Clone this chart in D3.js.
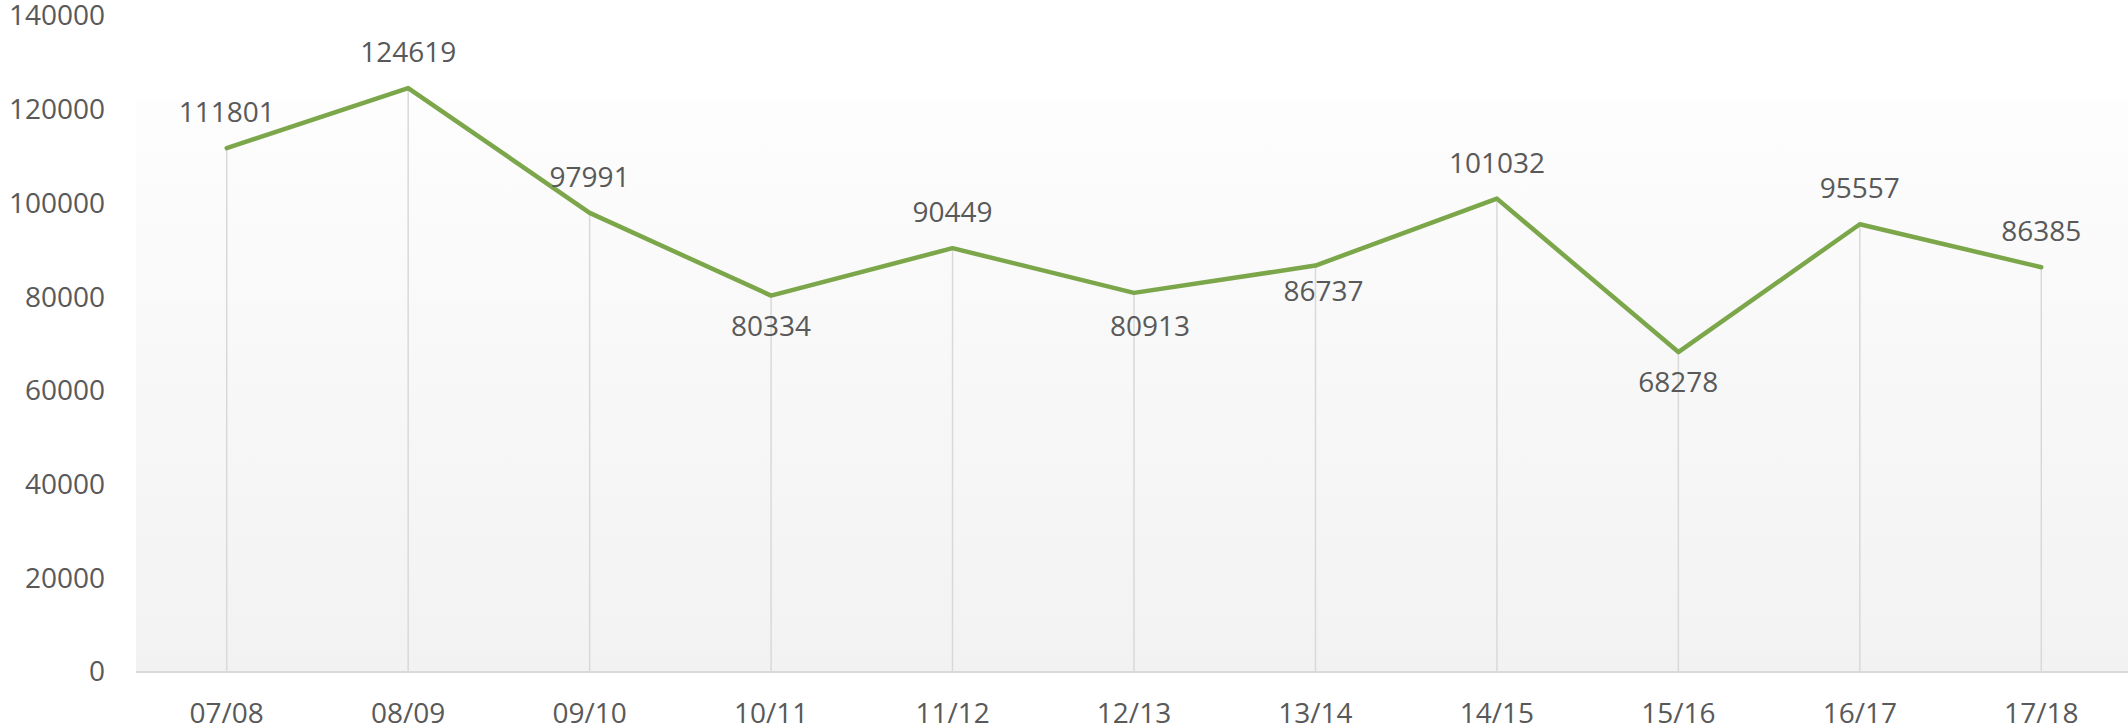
<!DOCTYPE html>
<html>
<head>
<meta charset="utf-8">
<script src="https://cdn.jsdelivr.net/npm/d3@7/dist/d3.min.js"></script>
<style>
  html, body { margin: 0; padding: 0; background: #ffffff; }
  svg { display: block; }
  text { font-family: "Open Sans", "Noto Sans", sans-serif; fill: #595959; }
</style>
</head>
<body>
<svg id="chart" width="2128" height="728"></svg>
<script>
const categories = ["07/08", "08/09", "09/10", "10/11", "11/12", "12/13", "13/14", "14/15", "15/16", "16/17", "17/18"];
const values = [111801, 124619, 97991, 80334, 90449, 80913, 86737, 101032, 68278, 95557, 86385];
const labelPlacement = ["above", "above", "above", "below", "above", "below", "below", "above", "below", "above", "above"];
const yTicks = [0, 20000, 40000, 60000, 80000, 100000, 120000, 140000];

const W = 2128, H = 728;
const svg = d3.select("#chart");

const x = d3.scaleBand().domain(categories).range([136, 2132]).padding(0);
const y = d3.scaleLinear().domain([0, 140000]).range([672, 16]);
const cx = c => x(c) + x.bandwidth() / 2;

// plot-area gradient
const defs = svg.append("defs");
const grad = defs.append("linearGradient").attr("id", "bg").attr("x1", 0).attr("y1", 0).attr("x2", 0).attr("y2", 1);
grad.append("stop").attr("offset", "0%").attr("stop-color", "#fdfdfd");
grad.append("stop").attr("offset", "100%").attr("stop-color", "#f2f2f2");
svg.append("rect").attr("x", 136).attr("y", 100).attr("width", W - 136).attr("height", 672 - 100).attr("fill", "url(#bg)");

// drop lines
svg.append("g").selectAll("line").data(categories).join("line")
  .attr("x1", c => cx(c)).attr("x2", c => cx(c))
  .attr("y1", (c, i) => y(values[i])).attr("y2", y(0))
  .attr("stroke", "#d9d9d9").attr("stroke-width", 1.5);

// axis line
svg.append("line").attr("x1", 136).attr("x2", W).attr("y1", y(0)).attr("y2", y(0))
  .attr("stroke", "#d9d9d9").attr("stroke-width", 2);

// y axis
const yAxis = svg.append("g").attr("transform", "translate(136,0)")
  .call(d3.axisLeft(y).tickValues(yTicks).tickSize(0).tickPadding(31).tickFormat(d3.format("d")));
yAxis.select(".domain").remove();
yAxis.selectAll("text").style("font-size", "28px").attr("fill", "#595959");

// x axis
const xAxis = svg.append("g").attr("transform", `translate(0,${y(0)})`)
  .call(d3.axisBottom(x).tickSize(0).tickPadding(31));
xAxis.select(".domain").remove();
xAxis.selectAll("text").style("font-size", "28px").attr("fill", "#595959");

// line
const line = d3.line().x((d, i) => cx(categories[i])).y(d => y(d));
svg.append("path").datum(values).attr("d", line)
  .attr("fill", "none").attr("stroke", "#7ba64a").attr("stroke-width", 4.5)
  .attr("stroke-linejoin", "round").attr("stroke-linecap", "round");

// data labels
const nudge = { 5: [16, 3], 6: [8, -5] };
svg.append("g").selectAll("text").data(values).join("text")
  .attr("x", (d, i) => cx(categories[i]) + (nudge[i] ? nudge[i][0] : 0))
  .attr("y", (d, i) => y(d) + (labelPlacement[i] === "above" ? -26 : 40) + (nudge[i] ? nudge[i][1] : 0))
  .attr("text-anchor", "middle")
  .style("font-size", "28px")
  .text(d => d);
</script>
</body>
</html>
